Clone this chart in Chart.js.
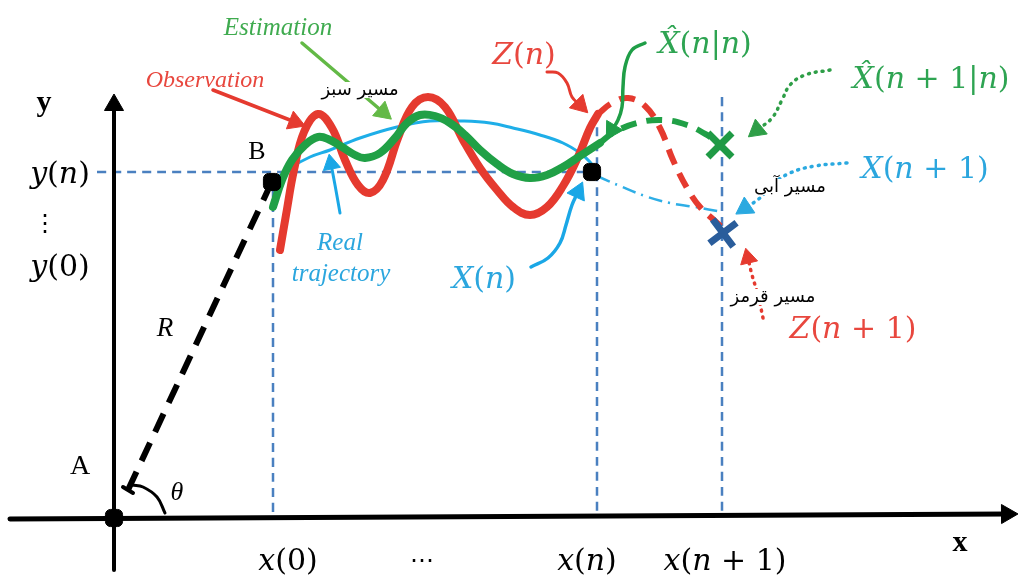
<!DOCTYPE html>
<html>
<head>
<meta charset="utf-8">
<script src="https://cdn.jsdelivr.net/npm/chart.js@4"></script>
<style>
  html, body { margin: 0; background: #fff; }
  canvas { display: block; }
</style>
</head>
<body>
<canvas id="c" width="1019" height="577"></canvas>
<script>
// Kalman tracking sketch drawn as a scatter chart (origin = point A)

// axes and construction lines
const xAxisPts = [[-104, -1], [893, 4]];
const yAxisPts = [[0, -52], [0, 413]];
const rLinePts = [[14, 28], [154, 328]];
const rTickPts = [[9, 31], [19, 25]];
const thetaArc = [[18, 33], [29, 31], [43, 21], [51, 5]];
const guideYn = [[-17, 346], [471, 346]];
const guideX0 = [[159, 330], [159, 1]];
const guideXn = [[483, 406], [483, 1]];
const guideXn1 = [[608, 421], [608, 1]];

// trajectories
const observed = [[166, 268], [172, 303], [180, 348], [190, 386], [204, 404], [218, 390], [231, 358], [244, 333],
  [256, 325], [269, 338], [284, 380], [298, 411], [314, 421], [331, 411], [349, 378], [366, 350], [383, 328],
  [399, 311], [416, 303], [433, 311], [449, 332], [464, 361], [476, 390], [484, 404]];
const observedNext = [[484, 404], [498, 415], [514, 420], [531, 412], [546, 390], [559, 358], [573, 330],
  [586, 311], [601, 297], [613, 286]];
const estimate = [[159, 311], [168, 338], [178, 358], [191, 373], [204, 381], [216, 378], [228, 371], [241, 363],
  [251, 360], [266, 365], [281, 380], [293, 395], [306, 403], [321, 402], [336, 395], [351, 383], [366, 368],
  [383, 354], [399, 344], [416, 340], [433, 343], [449, 351], [466, 362], [486, 375]];
const predicted = [[486, 375], [499, 385], [523, 395], [549, 398], [573, 393], [593, 383], [606, 373]];
const trueTrack = [[159, 337], [176, 350], [196, 361], [216, 368], [246, 380], [283, 391], [316, 397], [349, 397],
  [376, 395], [399, 390], [426, 383], [449, 375], [466, 365], [476, 356], [483, 346]];
const trueNext = [[483, 342], [506, 332], [531, 322], [556, 315], [581, 311], [608, 306]];

// points
const stateDots = [[0, 0], [158, 336], [478, 346]];
const predMark = [[606, 373]];
const trueMark = [[609, 285]];

// annotation arrows
const arrEstimation = [[188, 475], [269, 406]];
const arrObservation = [[99, 428], [181, 396]];
const arrReal = [[226, 305], [221, 333], [217, 354]];
const arrXn = [[417, 251], [434, 260], [446, 275], [452, 293], [458, 313], [464, 326]];
const arrZn = [[433, 446], [444, 445], [453, 435], [458, 421], [466, 413]];
const arrXnn = [[531, 475], [518, 468], [511, 451], [509, 431], [508, 411], [504, 398], [498, 388]];
const arrXn1n = [[716, 448], [691, 443], [676, 433], [668, 418], [658, 400], [643, 388]];
const arrXn1 = [[733, 355], [701, 352], [676, 345], [658, 333], [646, 320], [631, 310]];
const arrZn1 = [[649, 200], [644, 223], [638, 243], [634, 260]];

// tick labels
const yTickLabels = ["y(n)", "\u22EE", "y(0)"];
const xTickLabels = ["x(0)", "\u22EF", "x(n)", "x(n + 1)"];

const RED = "#e53a2f", GREEN = "#20a046", BLUE = "#1eaee8", GUIDE = "#4a80c0";

const pts = a => a.map(([x, y]) => ({ x, y }));

function line(data, color, width, dash, extra) {
  return Object.assign({
    data: pts(data), showLine: true, pointRadius: 0, borderColor: color, borderWidth: width,
    borderDash: dash || [], tension: 0.4, borderCapStyle: "round", borderJoinStyle: "round", fill: false
  }, extra || {});
}

function arrow(data, color, width, dash, head) {
  const n = data.length;
  const [x1, y1] = data[n - 2], [x2, y2] = data[n - 1];
  const rot = Math.atan2(x2 - x1, y2 - y1) * 180 / Math.PI;
  return line(data, color, width, dash, {
    pointStyle: "triangle",
    pointRadius: data.map((_, i) => i === n - 1 ? head : 0),
    pointRotation: data.map((_, i) => i === n - 1 ? rot : 0),
    pointBackgroundColor: color, pointBorderColor: color, pointBorderWidth: 1
  });
}

const datasets = [
  line(guideYn, GUIDE, 2.5, [9, 6], { borderCapStyle: "butt" }),
  line(guideX0, GUIDE, 2.5, [9, 6], { borderCapStyle: "butt" }),
  line(guideXn, GUIDE, 2.5, [9, 6], { borderCapStyle: "butt" }),
  line(guideXn1, GUIDE, 2.5, [9, 6], { borderCapStyle: "butt" }),
  arrow(xAxisPts, "#000", 5, null, 11),
  arrow(yAxisPts, "#000", 4, null, 11),
  line(rLinePts, "#000", 6, [20, 12], { borderCapStyle: "butt" }),
  line(rTickPts, "#000", 4),
  line(thetaArc, "#000", 3),
  line(trueTrack, BLUE, 3),
  line(trueNext, "#2eaee6", 2.5, [14, 6, 2, 6], { borderCapStyle: "butt" }),
  line(observed, RED, 8),
  line(observedNext, RED, 6, [16, 10], { borderCapStyle: "butt" }),
  line(estimate, GREEN, 8),
  line(predicted, GREEN, 6, [16, 10], { borderCapStyle: "butt" }),
  { data: pts(stateDots), pointStyle: "rectRounded", pointRadius: 10, backgroundColor: "#000", borderColor: "#000" },
  { data: pts(predMark), pointStyle: "crossRot", pointRadius: 17, borderWidth: 7, borderColor: "#1f9a45" },
  { data: pts(trueMark), pointStyle: "crossRot", pointRadius: 17, borderWidth: 7, borderColor: "#2a5d9b", pointRotation: 8 },
  arrow(arrEstimation, "#63b946", 3.5, null, 11),
  arrow(arrObservation, RED, 3.5, null, 11),
  arrow(arrReal, "#1aa7e6", 3, null, 10),
  arrow(arrXn, "#1aa7e6", 3.5, null, 11),
  arrow(arrZn, RED, 3, null, 11),
  arrow(arrXnn, "#1f9e47", 3.5, null, 11),
  arrow(arrXn1n, "#2e9e47", 3.5, [1, 6], 11),
  arrow(arrXn1, "#2aa9e0", 3.5, [1, 6], 11),
  arrow(arrZn1, RED, 3.5, [1, 6], 10)
];
datasets.forEach((d, i) => { d.order = -i; });

const notes = [
  { t: "Estimation", x: 164, y: 490, c: "#3fab4f", f: 'italic 25px "Liberation Serif"' },
  { t: "Observation", x: 91, y: 437, c: "#e8473e", f: 'italic 24px "Liberation Serif"' },
  { t: "Real", x: 226, y: 275, c: "#2ba6de", f: 'italic 25px "Liberation Serif"' },
  { t: "trajectory", x: 227, y: 244, c: "#2ba6de", f: 'italic 25px "Liberation Serif"' },
  { t: "مسیر سبز", x: 246, y: 428, c: "#000", f: '18px "DejaVu Sans"', box: true },
  { t: "مسیر آبی", x: 676, y: 331, c: "#000", f: '18px "DejaVu Sans"', box: true },
  { t: "مسیر قرمز", x: 659, y: 221, c: "#000", f: '18px "DejaVu Sans"', box: true },
  { t: "B", x: 143, y: 366, c: "#000", f: '26px "Liberation Serif"' },
  { t: "A", x: -34, y: 51, c: "#000", f: '28px "Liberation Serif"' },
  { t: "y", x: -70, y: 415, c: "#000", f: 'bold 30px "Liberation Serif"' },
  { t: "x", x: 846, y: -25, c: "#000", f: 'bold 30px "Liberation Serif"' },
  { t: "R", x: 51, y: 189, c: "#000", f: 'italic 27px "Liberation Serif"' },
  { t: "\u03B8", x: 63, y: 25, c: "#000", f: 'italic 26px "Liberation Serif"' },
  { m: yTickLabels[0], x: -54, y: 343, c: "#000" },
  { t: yTickLabels[1], x: -69, y: 293, c: "#000", f: '24px "DejaVu Serif"' },
  { m: yTickLabels[2], x: -54, y: 250, c: "#000" },
  { m: xTickLabels[0], x: 174, y: -44, c: "#000" },
  { t: xTickLabels[1], x: 308, y: -44, c: "#000", f: '24px "DejaVu Serif"' },
  { m: xTickLabels[2], x: 473, y: -44, c: "#000" },
  { m: xTickLabels[3], x: 611, y: -44, c: "#000" },
  { m: "Z(n)", x: 410, y: 462, c: "#e8473e" },
  { m: "X\u0302(n|n)", x: 591, y: 473, c: "#2ea452" },
  { m: "X\u0302(n + 1|n)", x: 817, y: 438, c: "#2ea452" },
  { m: "X(n + 1)", x: 811, y: 348, c: "#2ba6de" },
  { m: "X(n)", x: 370, y: 238, c: "#2ba6de" },
  { m: "Z(n + 1)", x: 739, y: 188, c: "#e8473e" }
];

function drawMath(ctx, str, cx, cy, size, color) {
  const toks = str.match(/[A-Za-z][\u0300-\u036f]*|[^A-Za-z]+/g);
  const fontOf = t => (/^[A-Za-z]/.test(t) ? "italic " : "") + size + 'px "DejaVu Serif"';
  let total = 0;
  const widths = toks.map(t => { ctx.font = fontOf(t); const w = ctx.measureText(t).width; total += w; return w; });
  let x = cx - total / 2;
  ctx.fillStyle = color;
  ctx.textAlign = "left";
  toks.forEach((t, i) => { ctx.font = fontOf(t); ctx.fillText(t, x, cy); x += widths[i]; });
}

const notesPlugin = {
  id: "notes",
  afterDatasetsDraw(chart) {
    const { ctx, scales: { x: sx, y: sy } } = chart;
    ctx.save();
    ctx.textBaseline = "middle";
    notes.forEach(n => {
      const px = sx.getPixelForValue(n.x), py = sy.getPixelForValue(n.y);
      if (n.m) {
        drawMath(ctx, n.m, px, py, 30, n.c);
      } else {
        ctx.font = n.f;
        ctx.textAlign = "center";
        if (n.box) {
          const w = ctx.measureText(n.t).width;
          ctx.fillStyle = "#fff";
          ctx.fillRect(px - w / 2 - 1, py - 8, w + 2, 16);
        }
        ctx.fillStyle = n.c;
        ctx.fillText(n.t, px, py);
      }
    });
    ctx.restore();
  }
};

new Chart(document.getElementById("c"), {
  type: "scatter",
  data: { datasets },
  options: {
    responsive: false,
    devicePixelRatio: 1,
    animation: false,
    events: [],
    layout: { padding: 0, autoPadding: false },
    scales: {
      x: { type: "linear", min: -114, max: 905, display: false },
      y: { type: "linear", min: -59, max: 518, display: false }
    },
    plugins: { legend: { display: false }, tooltip: { enabled: false } }
  },
  plugins: [notesPlugin]
});
</script>
</body>
</html>
